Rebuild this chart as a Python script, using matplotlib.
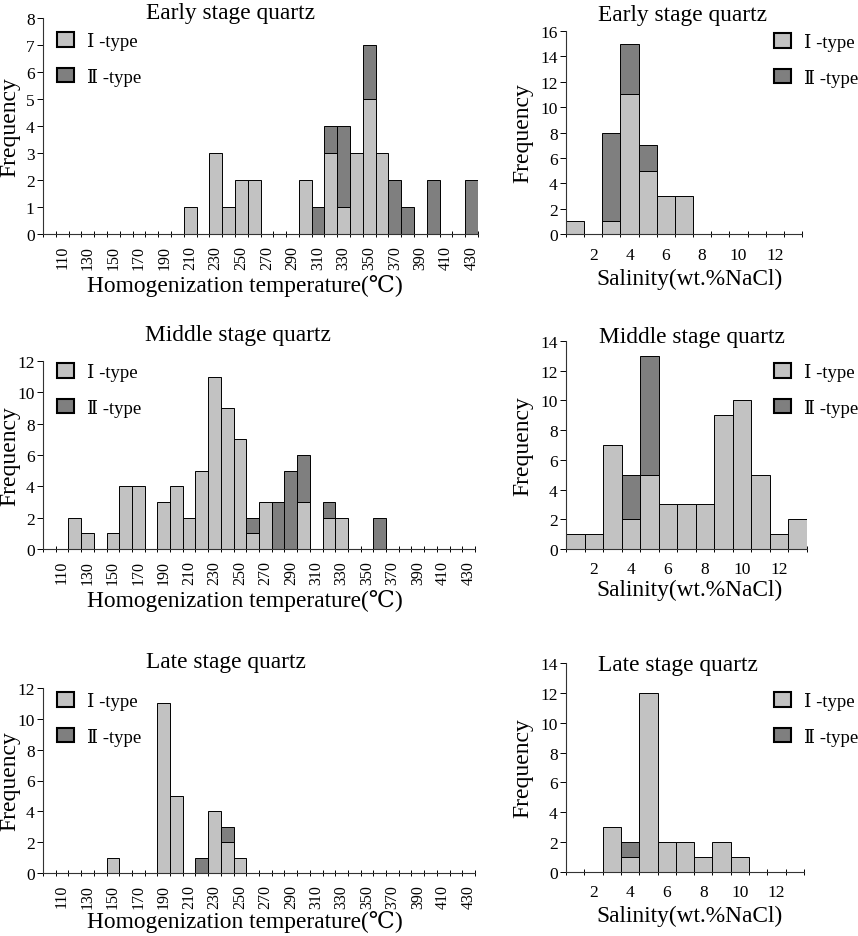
import matplotlib
matplotlib.use("Agg")
import matplotlib.pyplot as plt
from matplotlib.patches import Patch
import numpy as np

plt.rcParams["font.family"] = ["Liberation Serif", "DejaVu Serif", "Noto Sans CJK SC"]

W, H = 858, 937

# homogenization temperature classes (100..430 step 10)
temp_cats = list(range(100, 440, 10))
temp_labels = [str(t) for t in temp_cats]

early_th_I = [0, 0, 0, 0, 0, 0, 0, 0, 0, 0, 0, 1, 0, 3, 1, 2, 2, 0, 0, 0, 2, 0, 3, 1, 3, 5, 3,
              0, 0, 0, 0, 0, 0, 0]
early_th_II = [0, 0, 0, 0, 0, 0, 0, 0, 0, 0, 0, 0, 0, 0, 0, 0, 0, 0, 0, 0, 0, 1, 1, 3, 0, 2, 0,
               2, 1, 0, 2, 0, 0, 2]
middle_th_I = [0, 0, 2, 1, 0, 1, 4, 4, 0, 3, 4, 2, 5, 11, 9, 7, 1, 3, 0, 0, 3, 0, 2, 2,
               0, 0, 0, 0, 0, 0, 0, 0, 0, 0]
middle_th_II = [0, 0, 0, 0, 0, 0, 0, 0, 0, 0, 0, 0, 0, 0, 0, 0, 1, 0, 3, 5, 3, 0, 1, 0, 0, 0, 2,
                0, 0, 0, 0, 0, 0, 0]
late_th_I = [0, 0, 0, 0, 0, 1, 0, 0, 0, 11, 5, 0, 0, 4, 2, 1,
             0, 0, 0, 0, 0, 0, 0, 0, 0, 0, 0, 0, 0, 0, 0, 0, 0, 0]
late_th_II = [0, 0, 0, 0, 0, 0, 0, 0, 0, 0, 0, 0, 1, 0, 1,
              0, 0, 0, 0, 0, 0, 0, 0, 0, 0, 0, 0, 0, 0, 0, 0, 0, 0, 0]

# salinity classes (1..13 wt.% NaCl)
sal_cats = list(range(1, 14))
sal_labels = [str(s) for s in sal_cats]

early_sal_I = [1, 0, 1, 11, 5, 3, 3, 0, 0, 0, 0, 0, 0]
early_sal_II = [0, 0, 7, 4, 2, 0, 0, 0, 0, 0, 0, 0, 0]
middle_sal_I = [1, 1, 7, 2, 5, 3, 3, 3, 9, 10, 5, 1, 2]
middle_sal_II = [0, 0, 0, 3, 8, 0, 0, 0, 0, 0, 0, 0, 0]
late_sal_I = [0, 0, 3, 1, 12, 2, 2, 1, 2, 1, 0, 0, 0]
late_sal_II = [0, 0, 0, 1, 0, 0, 0, 0, 0, 0, 0, 0, 0]

LIGHT = "#c2c2c2"
DARK = "#7f7f7f"
LEG_FONT = {"family": ["Liberation Serif", "DejaVu Serif", "Noto Sans CJK SC"], "size": 13.5}


def fx(x):
    return x / W


def fy(y):
    return 1 - y / H


def hist_panel(fig, box, cats, labels, s1, s2, ymax, ystep, title, title_xy,
               xlabel, xlabel_xy, leg_xy, temp=True):
    l, t, r, b = box
    ax = fig.add_axes([fx(l), fy(b), fx(r) - fx(l), fy(t) - fy(b)])
    n = len(cats)
    x = np.arange(n)
    s1 = np.array(s1)
    s2 = np.array(s2)
    m1 = s1 > 0
    m2 = s2 > 0
    ax.bar(x[m1], s1[m1], width=1.0, color=LIGHT, edgecolor="black", linewidth=0.7)
    ax.bar(x[m2], s2[m2], width=1.0, bottom=s1[m2], color=DARK, edgecolor="black", linewidth=0.7)
    ax.set_xlim(-0.5, n - 0.5)
    ax.set_ylim(0, ymax)
    ax.set_yticks(np.arange(0, ymax + 1, ystep))
    for sp in ["top", "right"]:
        ax.spines[sp].set_visible(False)
    for sp in ["left", "bottom"]:
        ax.spines[sp].set_linewidth(0.8)
        ax.spines[sp].set_color("#333333")
    ax.set_xticks(x[1::2])
    ax.set_xticklabels(labels[1::2])
    ax.set_xticks(np.arange(-0.5, n, 1.0), minor=True)
    ax.tick_params(axis="x", which="major", length=0)
    ax.tick_params(axis="x", which="minor", length=5, direction="inout", width=0.7)
    ax.tick_params(axis="y", length=4, width=0.7, direction="out", labelsize=12.5, pad=2)
    if temp:
        ax.tick_params(axis="x", which="major", labelsize=11.5, labelrotation=90, pad=8)
    else:
        ax.tick_params(axis="x", which="major", labelsize=12.5, pad=9)
    fig.text(fx(title_xy[0]), fy(title_xy[1]), title, ha="center", va="center", fontsize=16.8)
    fig.text(fx(xlabel_xy[0]), fy(xlabel_xy[1]), xlabel, ha="center", va="center", fontsize=16.8)
    fig.text(fx(l - 33 if temp else l - 43), fy((t + b) / 2), "Frequency", rotation=90,
             ha="center", va="center", fontsize=17)
    handles = [Patch(facecolor=LIGHT, edgecolor="black", linewidth=1.5),
               Patch(facecolor=DARK, edgecolor="black", linewidth=1.5)]
    fig.legend(handles, ["\u2160 -type", "\u2161 -type"], loc="upper left",
               bbox_to_anchor=(fx(leg_xy[0]), fy(leg_xy[1])), frameon=False, prop=LEG_FONT,
               handlelength=0.9, handleheight=0.8, handletextpad=0.7, labelspacing=0.95,
               borderpad=0, borderaxespad=0)
    return ax


fig = plt.figure(figsize=(W / 100, H / 100), dpi=100)

th_label = "Homogenization temperature(\u2103)"
sal_label = "Salinity(wt.%NaCl)"

hist_panel(fig, (43, 19, 478, 235), temp_cats, temp_labels, early_th_I, early_th_II, 8, 1,
           "Early stage quartz", (230, 14), th_label, (245, 286), (57, 33))
hist_panel(fig, (566, 32, 802, 235), sal_cats, sal_labels, early_sal_I, early_sal_II, 16, 2,
           "Early stage quartz", (682, 15), sal_label, (690, 279), (774, 34), temp=False)
hist_panel(fig, (43, 362, 475, 550), temp_cats, temp_labels, middle_th_I, middle_th_II, 12, 2,
           "Middle stage quartz", (238, 336), th_label, (245, 601), (57, 364))
hist_panel(fig, (566, 342, 807, 550), sal_cats, sal_labels, middle_sal_I, middle_sal_II, 14, 2,
           "Middle stage quartz", (692, 337), sal_label, (690, 590), (774, 364), temp=False)
hist_panel(fig, (43, 689, 475, 874), temp_cats, temp_labels, late_th_I, late_th_II, 12, 2,
           "Late stage quartz", (226, 663), th_label, (245, 922), (57, 693))
hist_panel(fig, (566, 664, 804, 873), sal_cats, sal_labels, late_sal_I, late_sal_II, 14, 2,
           "Late stage quartz", (678, 665), sal_label, (690, 916), (774, 693), temp=False)

fig.savefig("out.png", dpi=100)
